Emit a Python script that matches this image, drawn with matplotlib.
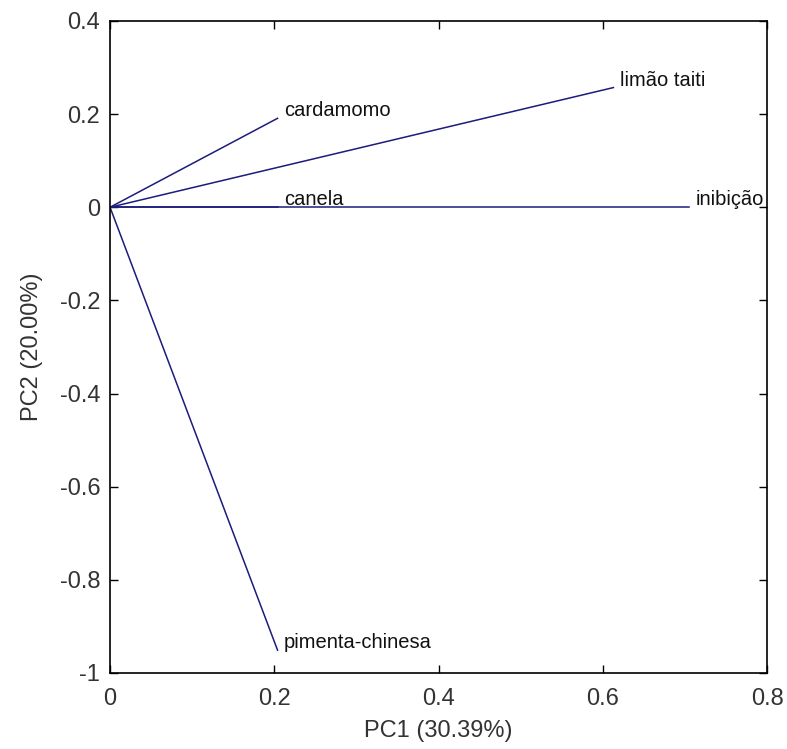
import matplotlib
matplotlib.use("Agg")
import matplotlib.pyplot as plt

# loadings
names = ['cardamomo', 'limão taiti', 'canela', 'inibição', 'pimenta-chinesa']
pc1 = [0.204, 0.613, 0.204, 0.705, 0.204]
pc2 = [0.191, 0.257, 0.000, 0.000, -0.951]

xticks = [0, 0.2, 0.4, 0.6, 0.8]
xticklabels = ['0', '0.2', '0.4', '0.6', '0.8']
yticks = [-1, -0.8, -0.6, -0.4, -0.2, 0, 0.2, 0.4]
yticklabels = ['-1', '-0.8', '-0.6', '-0.4', '-0.2', '0', '0.2', '0.4']

plt.rcParams['font.family'] = ['Liberation Sans', 'DejaVu Sans']

fig = plt.figure(figsize=(7.87, 7.49), dpi=100)
ax = fig.add_axes([0.1398, 0.1015, 0.8348, 0.8705])

col = '#1c1c7c'
for n, x, y in zip(names, pc1, pc2):
    ax.plot([0, x], [0, y], color=col, lw=1.1)
    ax.text(x + 0.008, y + 0.016, n, fontsize=14.5, ha='left', va='center',
            clip_on=True, color='#111111')

ax.set_xlim(0, 0.8)
ax.set_ylim(-1, 0.4)
ax.set_xticks(xticks)
ax.set_xticklabels(xticklabels)
ax.set_yticks(yticks)
ax.set_yticklabels(yticklabels)
ax.tick_params(direction='in', length=6, width=1, top=True, right=True,
               labelsize=17, labelcolor='#333333')
ax.tick_params(axis='x', pad=11)
ax.tick_params(axis='y', pad=7)
for s in ax.spines.values():
    s.set_linewidth(1.2)

ax.set_xlabel('PC1 (30.39%)', fontsize=17, labelpad=7, color='#333333')
ax.set_ylabel('PC2 (20.00%)', fontsize=17, labelpad=12, color='#333333')

fig.savefig('out.png', dpi=100)
